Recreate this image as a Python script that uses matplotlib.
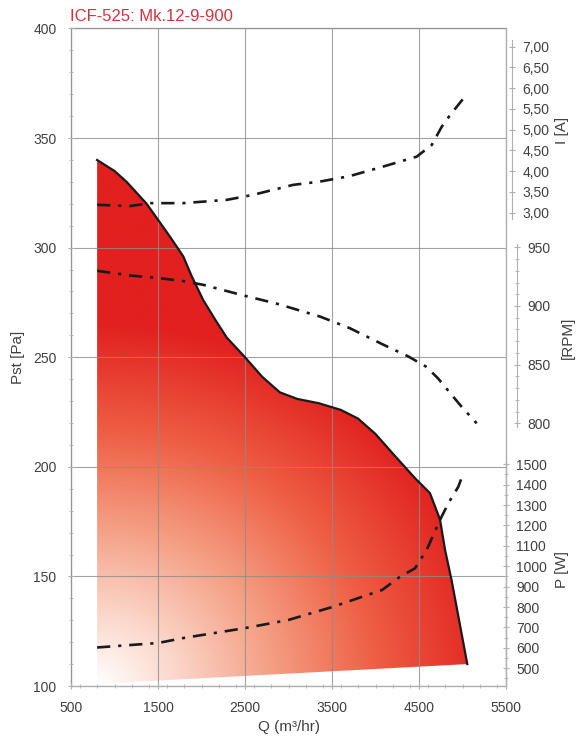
import numpy as np
import matplotlib
matplotlib.use('Agg')
import matplotlib.pyplot as plt
from matplotlib.colors import LinearSegmentedColormap
from matplotlib.patches import Polygon
from matplotlib.ticker import MultipleLocator, FixedLocator, FuncFormatter

plt.rcParams['font.family'] = ['Liberation Sans', 'DejaVu Sans']

# fan curve Pst [Pa] vs Q [m3/hr]
q_fan = [800, 1000, 1140, 1370, 1638, 1791, 1887, 2021, 2160, 2290, 2500, 2700,
         2900, 3100, 3350, 3600, 3800, 4000, 4200, 4450, 4626, 4741, 4800,
         4876, 5055]
p_fan = [340, 335, 330, 320, 305, 296, 287, 276, 267, 259, 250, 241,
         234, 231, 229, 226, 222, 215, 206, 195, 188, 176, 162,
         148, 110]
# lower edge of the shaded area
q_base = [5055, 800]
p_base = [110, 101]

# current I [A]
q_cur = [800, 1178, 1408, 1787, 2293, 2592, 3052, 3362, 3700, 4086, 4473,
         4646, 4761, 4856, 5002]
i_cur = [3.19, 3.16, 3.23, 3.23, 3.31, 3.43, 3.67, 3.75, 3.88, 4.11, 4.35,
         4.63, 5.07, 5.35, 5.73]

# speed [RPM]
q_rpm = [800, 1178, 1485, 1810, 2021, 2481, 2864, 3362, 3707, 4090, 4377,
         4588, 4722, 4856, 4991, 5163]
rpm = [930, 926, 924, 921, 918, 909, 902, 891, 881, 867, 857,
       848, 838, 826, 814, 800]

# power P [W]
q_pow = [800, 1500, 1800, 2500, 3000, 3500, 4077, 4282, 4454, 4588, 4741,
         4837, 4952, 5010]
p_pow = [602, 624, 649, 697, 737, 800, 884, 949, 990, 1080, 1227,
         1309, 1390, 1456]

W, H = 578, 739
fig = plt.figure(figsize=(W / 100, H / 100), dpi=100)
ax = fig.add_axes([71 / W, 53 / H, 435 / W, 657.5 / H])

grey = '#b0b0b0'
txt = '#404040'

ax.set_xlim(500, 5500)
ax.set_ylim(100, 400)
ax.xaxis.set_major_locator(FixedLocator(np.arange(500, 5501, 1000)))
ax.xaxis.set_minor_locator(MultipleLocator(200))
ax.yaxis.set_major_locator(MultipleLocator(50))
ax.yaxis.set_minor_locator(MultipleLocator(10))
for s in ax.spines.values():
    s.set_color(grey)
    s.set_linewidth(1.0)
ax.tick_params(which='both', direction='inout', color=grey, labelcolor=txt,
               labelsize=10)
ax.tick_params(which='major', length=5)
ax.tick_params(which='minor', length=3)
ax.tick_params(axis='x', pad=8)
ax.tick_params(axis='y', pad=8)

# gradient fill clipped to the curve: radial from the lower left corner
cmap = LinearSegmentedColormap.from_list(
    'fan', [(0.0, '#ffffff'), (0.2, '#fbd6c9'), (0.45, '#f49c80'),
            (0.7, '#ee5e44'), (1.0, '#e1201f')])
xs = np.linspace(800, 5060, 300)
ys = np.linspace(100, 342, 300)
X, Y = np.meshgrid(xs, ys)
dx = (X - 800) * 0.087
dy = (Y - 100) * 2.192 * 1.1
t = np.clip(np.hypot(dx, dy) / 400, 0, 1)
im = ax.imshow(t, extent=[800, 5060, 100, 342], origin='lower', cmap=cmap,
               vmin=0, vmax=1, aspect='auto', zorder=1, interpolation='bilinear')
poly = Polygon(list(zip(q_fan + q_base, p_fan + p_base)), closed=True,
               transform=ax.transData, facecolor='none', edgecolor='none')
ax.add_patch(poly)
im.set_clip_path(poly)
ax.plot(q_fan, p_fan, color='#1a1a1a', lw=1.6, zorder=3)

ax.grid(True, which='major', color='#8c8c8c', lw=0.8, alpha=0.8, zorder=2)
ax.set_axisbelow(False)

ax.set_xlabel('Q (m³/hr)', fontsize=11, color=txt, labelpad=4)
ax.set_ylabel('Pst [Pa]', fontsize=11, color=txt, labelpad=6)

dash = dict(color='#1a1a1a', lw=1.9, dashes=(5, 3, 1.2, 3),
            solid_capstyle='butt', dash_capstyle='butt')


def side_axis(lim, ticks, minor, bounds, outward, fmt):
    a = ax.twinx()
    a.set_ylim(*lim)
    for k in ('top', 'left', 'bottom'):
        a.spines[k].set_visible(False)
    a.spines['right'].set_position(('outward', outward))
    a.spines['right'].set_bounds(*bounds)
    a.spines['right'].set_color(grey)
    a.yaxis.set_major_locator(FixedLocator(ticks))
    if minor is not None:
        a.yaxis.set_minor_locator(FixedLocator(minor))
    a.yaxis.set_major_formatter(FuncFormatter(fmt))
    a.tick_params(which='both', direction='inout', color=grey, labelcolor=txt,
                  labelsize=10, pad=5)
    a.tick_params(which='major', length=5)
    a.tick_params(which='minor', length=3)
    return a


ax_i = side_axis((-8.405, 7.4386), np.arange(3.0, 7.01, 0.5), None,
                 (2.85, 7.15), 4.5, lambda v, p: f'{v:.2f}'.replace('.', ','))
ax_i.plot(q_cur, i_cur, **dash)

ax_r = side_axis((576.1, 1136.5), np.arange(800, 951, 50),
                 np.arange(800, 951, 10), (797, 953), 8,
                 lambda v, p: f'{v:.0f}')
ax_r.plot(q_rpm, rpm, **dash)

ax_p = side_axis((413.2, 3636), np.arange(500, 1501, 100),
                 np.arange(450, 1501, 50), (440, 1510), 0,
                 lambda v, p: f'{v:.0f}')
ax_p.plot(q_pow, p_pow, **dash)

fig.text(562 / W, 1 - 130 / H, 'I [A]', rotation=90, ha='center', va='center',
         fontsize=11, color=txt)
fig.text(568 / W, 1 - 338 / H, '[RPM]', rotation=90, ha='center', va='center',
         fontsize=11, color=txt)
fig.text(562 / W, 1 - 570 / H, 'P [W]', rotation=90, ha='center', va='center',
         fontsize=11, color=txt)

fig.text(70 / W, 1 - 21 / H, 'ICF-525: Mk.12-9-900', fontsize=12,
         color='#d2343f', ha='left', va='baseline')

fig.savefig('out.png', dpi=100)
